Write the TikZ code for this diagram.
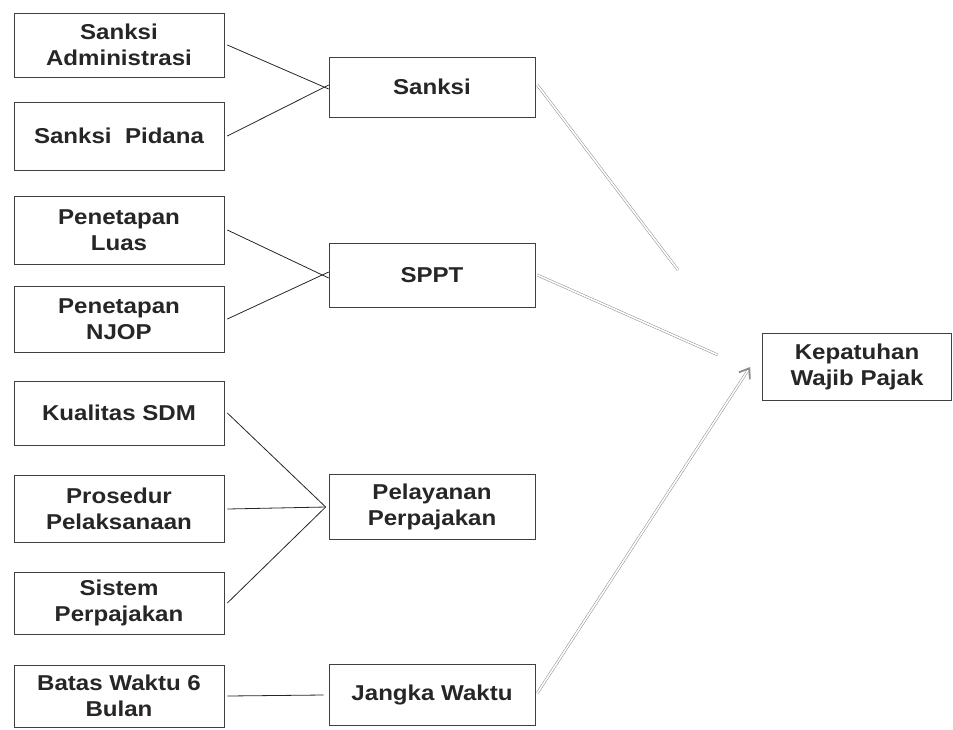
\documentclass[tikz,border=0pt]{standalone}
\usepackage{fontspec}
\setmainfont{Liberation Sans}[FakeStretch=1.12]
\usepackage{tikz}
\usetikzlibrary{arrows.meta}
\tikzset{
	factorbox/.style={draw=black!75,line width=0.7pt,fill=white,align=center,inner sep=2pt,
		minimum width=210,minimum height=64,font=\fontsize{21.5}{26}\selectfont\bfseries,text=black!85},
	varbox/.style={factorbox,minimum width=206,minimum height=62},
	linkline/.style={black!85,line width=0.8pt},
	dblarr/.style={draw=black!45,double=white,double distance=1.6pt,line width=0.5pt},
	dbltip/.style={-{Straight Barb[length=9pt,width=13pt,line width=1.8pt]}}
}

\begin{document}
\begin{tikzpicture}[x=1pt,y=-1pt]
		
		\useasboundingbox (0,0) rectangle (953,729);
		
		%% FACTORS (LEFT COLUMN)
		\node[factorbox] (SankAdm) at (119,45) {Sanksi\\Administrasi};
		\node[factorbox,minimum height=68] (SankPid) at (119,136) {Sanksi\ \ Pidana};
		\node[factorbox,minimum height=68] (PenLuas) at (119,230) {Penetapan\\Luas};
		\node[factorbox,minimum height=66] (PenNjop) at (119,319) {Penetapan\\NJOP};
		\node[factorbox] (KualSdm) at (119,413) {Kualitas SDM};
		\node[factorbox,minimum height=67] (ProsPel) at (119,509) {Prosedur\\Pelaksanaan};
		\node[factorbox,minimum height=62] (SistPaj) at (119,603) {Sistem\\Perpajakan};
		\node[factorbox,minimum height=62] (BatasWkt) at (119,696) {Batas Waktu 6\\Bulan};
		
		%% VARIABLES (MIDDLE COLUMN)
		\node[varbox,minimum height=60] (Sanksi) at (432,87) {Sanksi};
		\node[varbox,minimum height=64] (Sppt) at (432,275) {SPPT};
		\node[varbox,minimum height=65] (Pelayanan) at (432,507) {Pelayanan\\Perpajakan};
		\node[varbox,minimum height=61] (Jangka) at (432,695) {Jangka Waktu};
		
		%% RESULT
		\node[factorbox,minimum width=189,minimum height=67] (Kepatuhan) at (857,367) {Kepatuhan\\Wajib Pajak};
		
		%% LINKS
		\draw[linkline] ([xshift=3]SankAdm.east) -- ([yshift=-2]Sanksi.west);
		\draw[linkline] ([xshift=3]SankPid.east) -- ([yshift=2]Sanksi.west);
		\draw[linkline] ([xshift=3]PenLuas.east) -- ([yshift=-3]Sppt.west);
		\draw[linkline] ([xshift=3]PenNjop.east) -- ([yshift=3]Sppt.west);
		\draw[linkline] ([xshift=3]KualSdm.east) -- ([xshift=-3]Pelayanan.west);
		\draw[linkline] ([xshift=3]ProsPel.east) -- ([xshift=-3]Pelayanan.west);
		\draw[linkline] ([xshift=3]SistPaj.east) -- ([xshift=-3]Pelayanan.west);
		\draw[linkline] ([xshift=3]BatasWkt.east) -- ([xshift=-5]Jangka.west);
		
		%% ARROWS TO KEPATUHAN
		\coordinate (SanksiEnd) at (678,270);
		\coordinate (SpptEnd) at (718,355);
		\draw[dblarr] ([shift={(2,-2)}]Sanksi.east) -- (SanksiEnd);
		\draw[dblarr] ([xshift=2]Sppt.east) -- (SpptEnd);
		\draw[dblarr,dbltip] ([shift={(2,-2)}]Jangka.east) -- ([xshift=-12]Kepatuhan.west);
		
\end{tikzpicture}
\end{document}
